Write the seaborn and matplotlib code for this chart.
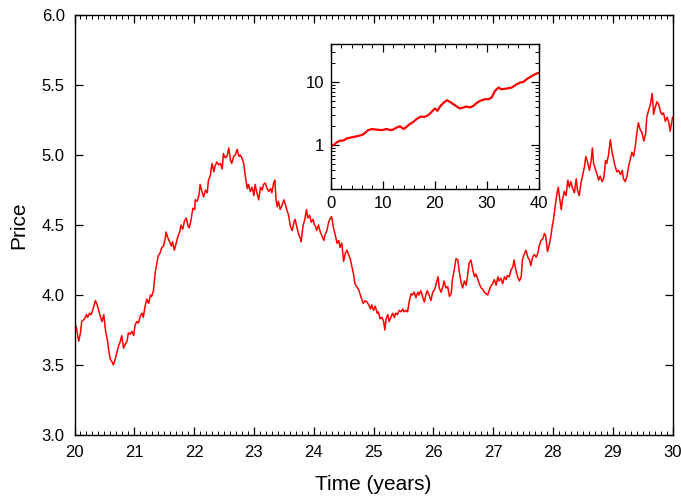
import numpy as np
import pandas as pd
import matplotlib
matplotlib.use("Agg")
import matplotlib.pyplot as plt
from matplotlib.ticker import AutoMinorLocator, MultipleLocator, LogLocator, NullFormatter, FixedLocator
import seaborn as sns

# ---- main series (years 20-30) ----
time_years = [
    20.00, 20.03, 20.07, 20.10, 20.12, 20.17, 20.20, 20.22, 20.25, 20.28, 20.31, 20.35, 20.37, 20.40,
    20.43, 20.46, 20.49, 20.52, 20.55, 20.57, 20.60, 20.63, 20.65, 20.68, 20.71, 20.74, 20.76, 20.79,
    20.82, 20.85, 20.88, 20.90, 20.93, 20.96, 20.99, 21.01, 21.04, 21.07, 21.10, 21.13, 21.15, 21.18,
    21.21, 21.24, 21.27, 21.29, 21.32, 21.35, 21.38, 21.40, 21.43, 21.46, 21.49, 21.52, 21.53, 21.56,
    21.59, 21.62, 21.64, 21.67, 21.70, 21.73, 21.76, 21.78, 21.81, 21.84, 21.87, 21.90, 21.92, 21.95,
    21.98, 22.01,
    22.02, 22.05, 22.08, 22.10, 22.13, 22.16, 22.19, 22.22, 22.24, 22.27, 22.30, 22.33, 22.35, 22.38,
    22.41, 22.44, 22.47, 22.49, 22.52, 22.55, 22.58, 22.61, 22.63, 22.66, 22.69, 22.72, 22.75, 22.77,
    22.80, 22.83, 22.85, 22.87, 22.89, 22.91, 22.94, 22.97, 23.00, 23.02, 23.05, 23.08, 23.11, 23.14,
    23.16, 23.19, 23.22, 23.25, 23.28, 23.30, 23.33, 23.35, 23.37, 23.39, 23.41, 23.44, 23.47, 23.50,
    23.53, 23.55, 23.58, 23.61, 23.64, 23.67, 23.69, 23.72, 23.75, 23.78, 23.79, 23.82, 23.85, 23.88,
    23.90, 23.93, 23.96, 23.99, 24.005,
    24.03, 24.05, 24.08, 24.11, 24.14, 24.17, 24.19, 24.22, 24.25, 24.28, 24.30, 24.33, 24.36, 24.39,
    24.42, 24.44, 24.47, 24.50, 24.53, 24.56, 24.58, 24.61, 24.64, 24.67, 24.69, 24.72, 24.75, 24.78,
    24.81, 24.83, 24.86, 24.89, 24.92, 24.95, 24.97, 25.00, 25.03, 25.06, 25.08, 25.11, 25.14, 25.17,
    25.19, 25.21, 25.24, 25.26, 25.29, 25.32, 25.35, 25.37, 25.40, 25.43, 25.46, 25.49, 25.51, 25.54,
    25.57, 25.60, 25.63, 25.65, 25.68, 25.71, 25.74, 25.76, 25.79, 25.82, 25.85, 25.88, 25.90, 25.93,
    25.96, 25.99, 26.01,
    26.03, 26.08, 26.10, 26.13, 26.16, 26.18, 26.21, 26.24, 26.27, 26.30, 26.32, 26.35, 26.38, 26.41,
    26.43, 26.46, 26.49, 26.52, 26.55, 26.57, 26.60, 26.63, 26.66, 26.69, 26.71, 26.74, 26.77, 26.80,
    26.83, 26.85, 26.88, 26.91, 26.94, 26.96, 26.99, 27.02, 27.05, 27.08, 27.10, 27.13, 27.16, 27.19,
    27.22, 27.24, 27.27, 27.30, 27.33, 27.35, 27.38, 27.41, 27.44, 27.47, 27.49, 27.52, 27.55, 27.58,
    27.61, 27.63, 27.66, 27.69, 27.72, 27.75, 27.77, 27.80, 27.83, 27.86, 27.88, 27.91, 27.94, 27.97,
    27.985, 28.01, 28.04, 28.07, 28.09, 28.11, 28.14, 28.16, 28.19, 28.22, 28.25, 28.275, 28.30, 28.33,
    28.36, 28.39, 28.41, 28.44, 28.47, 28.50, 28.53, 28.55, 28.58, 28.61, 28.64, 28.66, 28.68, 28.71,
    28.74, 28.765, 28.79, 28.82, 28.85, 28.88, 28.90, 28.93, 28.96, 28.99, 29.02, 29.04, 29.07, 29.10,
    29.13, 29.16, 29.18, 29.21, 29.24, 29.27, 29.29, 29.32, 29.35, 29.38, 29.41, 29.43, 29.46, 29.49,
    29.52, 29.55, 29.57, 29.60, 29.63, 29.66, 29.685, 29.71, 29.74, 29.77, 29.80, 29.82, 29.85, 29.88,
    29.91, 29.94, 29.96, 29.99, 30.00,
]
price = [
    3.80, 3.77, 3.67, 3.73, 3.81, 3.83, 3.86, 3.84, 3.87, 3.86, 3.90, 3.96, 3.94, 3.90,
    3.85, 3.81, 3.86, 3.74, 3.68, 3.61, 3.54, 3.52, 3.50, 3.54, 3.59, 3.64, 3.66, 3.71,
    3.62, 3.65, 3.67, 3.73, 3.72, 3.74, 3.71, 3.78, 3.81, 3.80, 3.85, 3.87, 3.84, 3.92,
    3.97, 3.94, 4.00, 3.99, 4.03, 4.16, 4.23, 4.28, 4.30, 4.34, 4.35, 4.41, 4.45, 4.41,
    4.38, 4.35, 4.38, 4.32, 4.37, 4.42, 4.45, 4.50, 4.47, 4.53, 4.55, 4.49, 4.48, 4.54,
    4.62, 4.61,
    4.68, 4.67, 4.71, 4.79, 4.74, 4.70, 4.75, 4.73, 4.82, 4.85, 4.94, 4.88, 4.92, 4.95,
    4.93, 4.94, 4.90, 5.01, 4.98, 4.99, 5.05, 4.96, 4.94, 4.99, 5.00, 5.04, 4.99, 5.00,
    4.98, 4.94, 4.87, 4.81, 4.76, 4.79, 4.74, 4.77, 4.71, 4.79, 4.73, 4.68, 4.77, 4.75,
    4.79, 4.80, 4.76, 4.74, 4.76, 4.73, 4.80, 4.82, 4.68, 4.63, 4.67, 4.61, 4.64, 4.68,
    4.64, 4.61, 4.57, 4.49, 4.46, 4.52, 4.54, 4.48, 4.43, 4.40, 4.38, 4.49, 4.54, 4.61,
    4.55, 4.57, 4.52, 4.54, 4.51,
    4.49, 4.46, 4.50, 4.45, 4.42, 4.39, 4.43, 4.46, 4.52, 4.55, 4.56, 4.48, 4.43, 4.37,
    4.39, 4.34, 4.37, 4.24, 4.30, 4.32, 4.29, 4.26, 4.20, 4.14, 4.08, 4.06, 4.04, 4.00,
    3.96, 3.94, 3.96, 3.95, 3.93, 3.90, 3.93, 3.89, 3.92, 3.87, 3.88, 3.83, 3.84, 3.81,
    3.75, 3.83, 3.86, 3.81, 3.84, 3.87, 3.84, 3.87, 3.86, 3.89, 3.88, 3.90, 3.88, 3.89,
    3.88, 3.96, 4.01, 4.00, 4.02, 3.98, 4.02, 4.00, 4.03, 3.99, 3.95, 4.01, 4.03, 4.00,
    3.96, 4.02, 4.03,
    4.05, 4.13, 4.05, 4.02, 4.06, 4.10, 4.05, 4.06, 3.99, 4.01, 4.11, 4.18, 4.26, 4.25,
    4.18, 4.10, 4.05, 4.10, 4.07, 4.13, 4.23, 4.25, 4.18, 4.13, 4.15, 4.12, 4.08, 4.05,
    4.04, 4.02, 4.01, 4.00, 4.04, 4.06, 4.08, 4.11, 4.07, 4.13, 4.10, 4.12, 4.08, 4.13,
    4.11, 4.14, 4.13, 4.18, 4.20, 4.25, 4.18, 4.13, 4.10, 4.13, 4.25, 4.29, 4.32, 4.27,
    4.25, 4.21, 4.27, 4.29, 4.27, 4.30, 4.35, 4.39, 4.40, 4.44, 4.42, 4.31, 4.36, 4.43,
    4.48, 4.54, 4.64, 4.73, 4.77, 4.70, 4.61, 4.68, 4.74, 4.71, 4.82, 4.77, 4.81, 4.76,
    4.73, 4.83, 4.75, 4.71, 4.80, 4.86, 4.92, 4.99, 4.95, 4.89, 4.96, 5.05, 4.94, 4.90,
    4.86, 4.82, 4.85, 4.81, 4.83, 4.96, 4.94, 5.00, 5.11, 5.02, 4.96, 4.92, 4.88, 4.89,
    4.86, 4.89, 4.83, 4.81, 4.85, 4.93, 4.96, 5.02, 4.99, 5.07, 5.18, 5.23, 5.18, 5.16,
    5.10, 5.15, 5.27, 5.32, 5.36, 5.44, 5.29, 5.34, 5.38, 5.36, 5.31, 5.29, 5.30, 5.24,
    5.27, 5.23, 5.17, 5.24, 5.27,
]

# ---- inset series (years 0-40, log scale) ----
inset_time = [0.0, 0.5, 1.15, 1.8, 2.4, 3.1, 4.0, 5.0, 6.0, 6.6, 7.2, 7.9, 8.8, 9.8, 10.75, 11.4,
              12.0, 12.7, 13.3, 14.0, 14.6, 15.2, 15.9, 16.5, 17.2, 18.1, 18.75, 19.4, 20.0, 20.5,
              21.0, 21.6, 22.3, 22.9, 23.55, 24.2, 24.8, 25.5, 26.1, 26.75, 27.4, 28.0, 28.7, 29.6,
              30.3, 30.9, 31.55, 32.2, 32.8, 33.8, 34.75, 35.7, 36.35, 37.0, 37.6, 38.6, 39.2, 40.0]
inset_price = [1.04, 0.98, 1.10, 1.17, 1.17, 1.27, 1.32, 1.37, 1.44, 1.55, 1.72, 1.79, 1.75, 1.72,
               1.79, 1.72, 1.75, 1.90, 1.97, 1.79, 1.95, 2.15, 2.33, 2.57, 2.80, 2.80, 2.98, 3.36,
               3.79, 3.48, 4.08, 4.61, 5.13, 4.83, 4.44, 4.08, 3.79, 3.93, 4.08, 3.93, 4.17, 4.61,
               5.01, 5.32, 5.32, 5.66, 7.21, 8.13, 7.66, 7.85, 8.13, 9.18, 9.75, 10.0, 11.0, 12.4,
               13.2, 14.0]

main_df = pd.DataFrame({"t": time_years, "p": price})
inset_df = pd.DataFrame({"t": inset_time, "p": inset_price})

sns.set_style("white")
plt.rcParams["font.family"] = ["Liberation Sans", "DejaVu Sans"]
plt.rcParams["text.color"] = "black"
plt.rcParams["axes.labelcolor"] = "black"
plt.rcParams["xtick.color"] = "black"
plt.rcParams["ytick.color"] = "black"

W, H = 681, 496
fig = plt.figure(figsize=(W / 100, H / 100), dpi=100)
ax = fig.add_axes([74.5 / W, 1 - 435 / H, (672.5 - 74.5) / W, (435 - 15) / H])

sns.lineplot(data=main_df, x="t", y="p", ax=ax, color="#ff0000", linewidth=1.1,
             estimator=None, sort=False)
ax.set_xlim(20, 30)
ax.set_ylim(3.0, 6.0)
ax.xaxis.set_major_locator(MultipleLocator(1))
ax.xaxis.set_minor_locator(AutoMinorLocator(10))
ax.yaxis.set_major_locator(MultipleLocator(0.5))
ax.yaxis.set_major_formatter(matplotlib.ticker.FormatStrFormatter("%.1f"))
ax.tick_params(which="both", direction="in", top=True, right=True, bottom=True, left=True,
               colors="black", labelcolor="black", labelsize=12)
ax.tick_params(which="major", length=6, width=0.9, pad=7)
ax.tick_params(which="minor", length=3, width=0.7)
ax.tick_params(axis="y", which="minor", left=False, right=False)
ax.set_xlabel("Time (years)", fontsize=15, labelpad=11, color="black")
ax.set_ylabel("Price", fontsize=15, labelpad=10, color="black")
for s in ax.spines.values():
    s.set_visible(True)
    s.set_color("black")
    s.set_linewidth(1.0)

# ---- inset ----
ins = fig.add_axes([330.7 / W, 1 - 189 / H, (539 - 330.7) / W, (189 - 44) / H])
sns.lineplot(data=inset_df, x="t", y="p", ax=ins, color="#ff0000", linewidth=1.6,
             estimator=None, sort=False)
ins.set_yscale("log")
ins.set_xlim(0, 40)
ins.set_ylim(0.2, 40)
ins.xaxis.set_major_locator(MultipleLocator(10))
ins.xaxis.set_minor_locator(MultipleLocator(2))
ins.yaxis.set_major_locator(FixedLocator([1, 10]))
ins.yaxis.set_major_formatter(matplotlib.ticker.FixedFormatter(["1", "10"]))
ins.yaxis.set_minor_locator(LogLocator(base=10, subs=np.arange(2, 10), numticks=20))
ins.yaxis.set_minor_formatter(NullFormatter())
ins.tick_params(which="both", direction="in", top=True, right=True, bottom=True, left=True,
                colors="black", labelcolor="black", labelsize=12)
ins.tick_params(which="major", length=6, width=0.9, pad=5)
ins.tick_params(which="minor", length=3, width=0.7)
ins.set_xlabel("")
ins.set_ylabel("")
for s in ins.spines.values():
    s.set_visible(True)
    s.set_color("black")
    s.set_linewidth(1.0)

fig.savefig("out.png", dpi=100, facecolor="white")
